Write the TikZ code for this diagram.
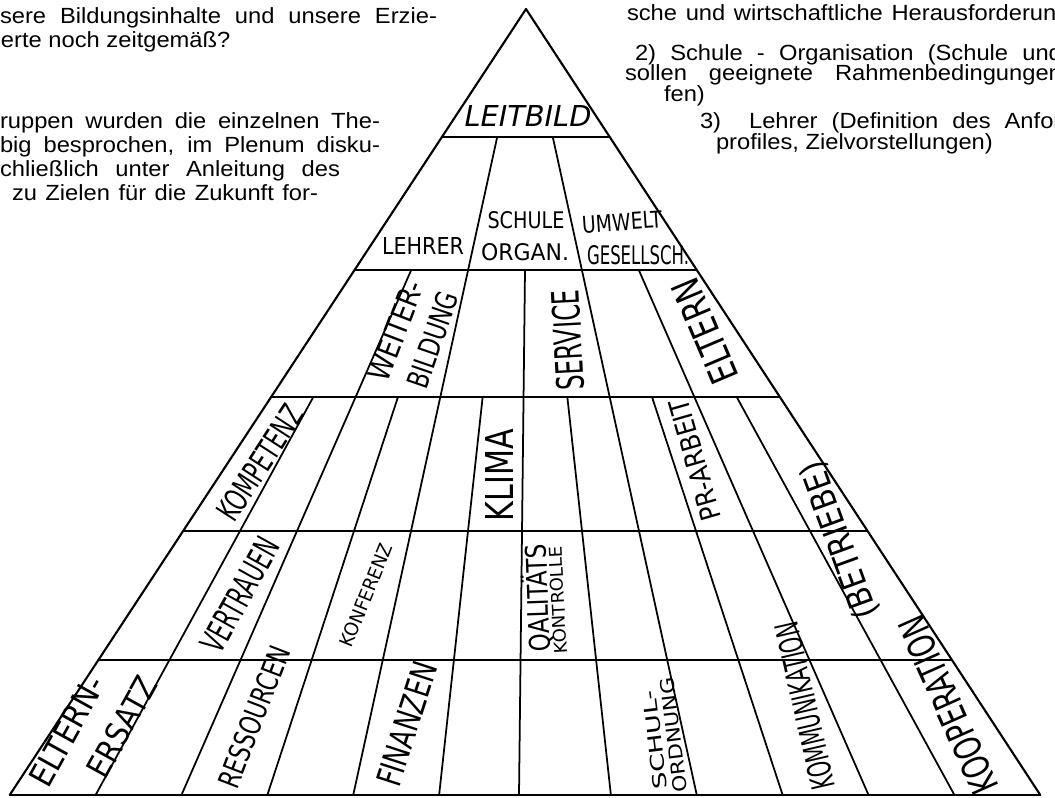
\documentclass[tikz,border=0pt]{standalone}
\usepackage{fontspec}
\setmainfont{Liberation Sans}[FakeStretch=1.08]
\newfontfamily\hwfont{DejaVu Sans}
\newlength\pxu
\setlength\pxu{0.02cm}
\newcommand\hwl[3]{\resizebox{#1\pxu}{#2\pxu}{\hwfont #3}}
\begin{document}
\begin{tikzpicture}[x=0.02cm,y=-0.02cm,
  edge/.style={line width=1.2pt,line cap=round,line join=round},
  div/.style={line width=1pt,line cap=round},
  body/.style={font=\fontsize{12.5pt}{14pt}\selectfont,anchor=base west,inner sep=0pt,outer sep=0pt},
  lbl/.style={inner sep=0pt,anchor=center}]
\useasboundingbox (0,0) rectangle (1055,798);
\clip (0,0) rectangle (1055,798);
% ---------- pyramid ----------
\coordinate (apex) at (526,9);
\coordinate (bl) at ({525-6*0.1094*785},795);
\coordinate (br) at ({525+6*0.1094*785},795);
\foreach \yy in {137,270,397,531,660,795}
  \draw[div] ({525-6*0.1094*(\yy-10)},\yy) -- ({525+6*0.1094*(\yy-10)},\yy);
\draw[edge] (bl) -- (apex) -- (br);
\foreach \k/\ys in {-2/137,2/137,-4/270,4/270,-1/397,1/397,-3/397,3/397,-5/397,5/397}
  \draw[div] ({525+\k*0.1094*(\ys-10)},\ys) -- ({525+\k*0.1094*785},795);
\draw[div] (525,270) -- (519,795);
% ---------- handwritten labels ----------
\node[lbl] (leit) at (528,116) {\hwl{127}{21}{\itshape LEITBILD}};
\node[lbl] (schule) at (526,220) {\hwl{77}{17}{SCHULE}};
\node[lbl,rotate=4] (umwelt) at (622,222) {\hwl{80}{17}{UMWELT}};
\node[lbl] (lehrer) at (423,246) {\hwl{82}{17}{LEHRER}};
\node[lbl] (organ) at (525,252) {\hwl{88}{17}{ORGAN.}};
\node[lbl] (gesell) at (638,255) {\hwl{102}{19}{GESELLSCH.}};
\node[lbl,rotate=69] (weiter) at (396,331) {\hwl{105}{22}{WEITER-}};
\node[lbl,rotate=71] (bildung) at (433,340) {\hwl{100}{22}{BILDUNG}};
\node[lbl,rotate=93] (service) at (568,340) {\hwl{100}{28}{SERVICE}};
\node[lbl,rotate=113] (eltern) at (705,331) {\hwl{110}{28}{ELTERN}};
\node[lbl,rotate=57] (kompetenz) at (260,463) {\hwl{130}{24}{KOMPETENZ}};
\node[lbl,rotate=90] (klima) at (499,475) {\hwl{92}{28}{KLIMA}};
\node[lbl,rotate=106] (pr) at (695,460) {\hwl{125}{20}{PR-ARBEIT}};
\node[lbl,rotate=61] (vertrauen) at (240,595) {\hwl{125}{25}{VERTRAUEN}};
\node[lbl,rotate=68] (konferenz) at (366,595) {\hwl{110}{14}{KONFERENZ}};
\node[lbl,rotate=92] (qual) at (537,598) {\hwl{108}{26}{QALITÄTS}};
\node[lbl,rotate=93] (kontr) at (558,600) {\hwl{108}{13}{KONTROLLE}};
\node[lbl,rotate=97] (schul) at (655,740) {\hwl{100}{14}{SCHUL-}};
\node[lbl,rotate=97] (ordnung) at (674,735) {\hwl{115}{14}{ORDNUNG}};
\node[lbl,rotate=103] (komm) at (805,706) {\hwl{170}{24}{KOMMUNIKATION}};
\node[lbl,rotate=114] (koop) at (948,705) {\hwl{190}{28}{KOOPERATION}};
\node[lbl,rotate=110] (betr) at (840,540) {\hwl{165}{26}{(BETRIEBE)}};
\node[lbl,rotate=61] (eltern2) at (67,731) {\hwl{120}{24}{ELTERN-}};
\node[lbl,rotate=61] (ersatz) at (122,727) {\hwl{110}{24}{ERSATZ}};
\node[lbl,rotate=69] (ressourcen) at (254,717) {\hwl{150}{22}{RESSOURCEN}};
\node[lbl,rotate=72] (finanzen) at (407,724) {\hwl{128}{25}{FINANZEN}};
% ---------- printed text, left ----------
\node[body] (t1) at (0,23) {\makebox[437\pxu][s]{sere Bildungsinhalte und unsere Erzie-}};
\node[body] (t2) at (1,47) {erte noch zeitgemäß?};
\node[body] (t3) at (0,128) {\makebox[380\pxu][s]{ruppen wurden die einzelnen The-}};
\node[body] (t4) at (0,152) {\makebox[380\pxu][s]{big besprochen, im Plenum disku-}};
\node[body] (t5) at (0,176) {\makebox[340\pxu][s]{chließlich unter Anleitung des}};
\node[body] (t6) at (12,200) {\makebox[306\pxu][s]{zu Zielen für die Zukunft for-}};
% ---------- printed text, right ----------
\node[body] (r1) at (627,20) {\makebox[469\pxu][s]{sche und wirtschaftliche Herausforderungen}};
\node[body] (r2) at (635,60) {\makebox[427\pxu][s]{2) Schule - Organisation (Schule und}};
\node[body] (r3) at (625,80) {\makebox[437\pxu][s]{sollen geeignete Rahmenbedingungen}};
\node[body] (r4) at (664,101) {fen)};
\node[body] (r5) at (700,128) {\makebox[455\pxu][s]{3)\ \ Lehrer (Definition des Anforderungs-}};
\node[body] (r6) at (716,149) {profiles, Zielvorstellungen)};
\end{tikzpicture}
\end{document}
